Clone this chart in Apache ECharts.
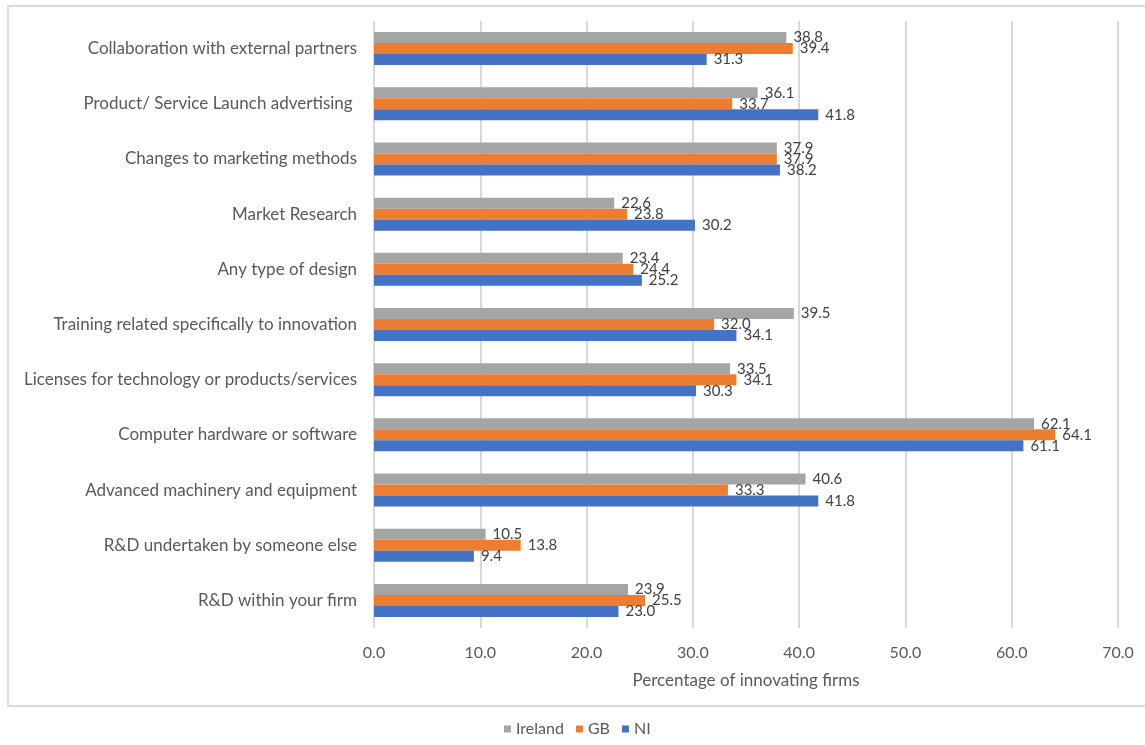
<!DOCTYPE html>
<html>
<head>
<meta charset="utf-8">
<script src="https://cdn.jsdelivr.net/npm/echarts@6/dist/echarts.min.js"></script>
<style>
  html, body { margin: 0; padding: 0; background: #ffffff; }
  #chart { width: 1145px; height: 745px; }
</style>
</head>
<body>
<div id="chart"></div>
<script>
// Innovation activities, listed top to bottom
const categories = [
  'Collaboration with external partners',
  'Product/ Service Launch advertising ',
  'Changes to marketing methods',
  'Market Research',
  'Any type of design',
  'Training related specifically to innovation',
  'Licenses for technology or products/services',
  'Computer hardware or software',
  'Advanced machinery and equipment',
  'R&D undertaken by someone else',
  'R&D within your firm'
];

// Percentage of innovating firms per region
const ireland = [38.8, 36.1, 37.9, 22.6, 23.4, 39.5, 33.5, 62.1, 40.6, 10.5, 23.9];
const gb      = [39.4, 33.7, 37.9, 23.8, 24.4, 32.0, 34.1, 64.1, 33.3, 13.8, 25.5];
const ni      = [31.3, 41.8, 38.2, 30.2, 25.2, 34.1, 30.3, 61.1, 41.8, 9.4, 23.0];

const xTicks = [0, 10, 20, 30, 40, 50, 60, 70];

const FONT = 'Lato, "Open Sans", sans-serif';

const chart = echarts.init(document.getElementById('chart'), null, { renderer: 'canvas' });

function barSeries(name, data, color) {
  return {
    name: name,
    type: 'bar',
    data: data,
    barWidth: 11,
    barGap: '0%',
    itemStyle: { color: color },
    label: {
      show: true,
      position: 'right',
      distance: 7,
      color: '#404040',
      fontFamily: FONT,
      fontSize: 15,
      formatter: p => p.value.toFixed(1)
    }
  };
}

chart.setOption({
  backgroundColor: '#ffffff',
  animation: false,
  graphic: [
    {
      type: 'rect',
      z: -10,
      shape: { x: 8, y: 6, width: 1160, height: 700 },
      style: { fill: '#ffffff', stroke: '#dcdcdc', lineWidth: 2 }
    }
  ],
  grid: { left: 374, right: 27, top: 21, bottom: 117, containLabel: false },
  legend: {
    data: ['Ireland', 'GB', 'NI'],
    left: 499,
    top: 716,
    itemWidth: 7,
    itemHeight: 7,
    itemGap: 12,
    icon: 'rect',
    textStyle: { color: '#595959', fontFamily: FONT, fontSize: 16 }
  },
  xAxis: {
    type: 'value',
    min: xTicks[0],
    max: xTicks[xTicks.length - 1],
    interval: 10,
    name: 'Percentage of innovating firms',
    nameLocation: 'middle',
    nameGap: 44,
    nameTextStyle: { color: '#595959', fontFamily: FONT, fontSize: 17 },
    axisLine: { show: false },
    axisTick: { show: false },
    axisLabel: {
      color: '#595959',
      fontFamily: FONT,
      fontSize: 16,
      margin: 17,
      formatter: v => v.toFixed(1)
    },
    splitLine: { show: true, lineStyle: { color: '#d9d9d9', width: 2 } }
  },
  yAxis: {
    type: 'category',
    inverse: true,
    data: categories,
    axisLine: { show: false },
    axisTick: { show: false },
    axisLabel: {
      color: '#595959',
      fontFamily: FONT,
      fontSize: 17,
      margin: 17
    }
  },
  series: [
    barSeries('Ireland', ireland, '#a5a5a5'),
    barSeries('GB', gb, '#ed7d31'),
    barSeries('NI', ni, '#4472c4')
  ]
});
</script>
</body>
</html>
